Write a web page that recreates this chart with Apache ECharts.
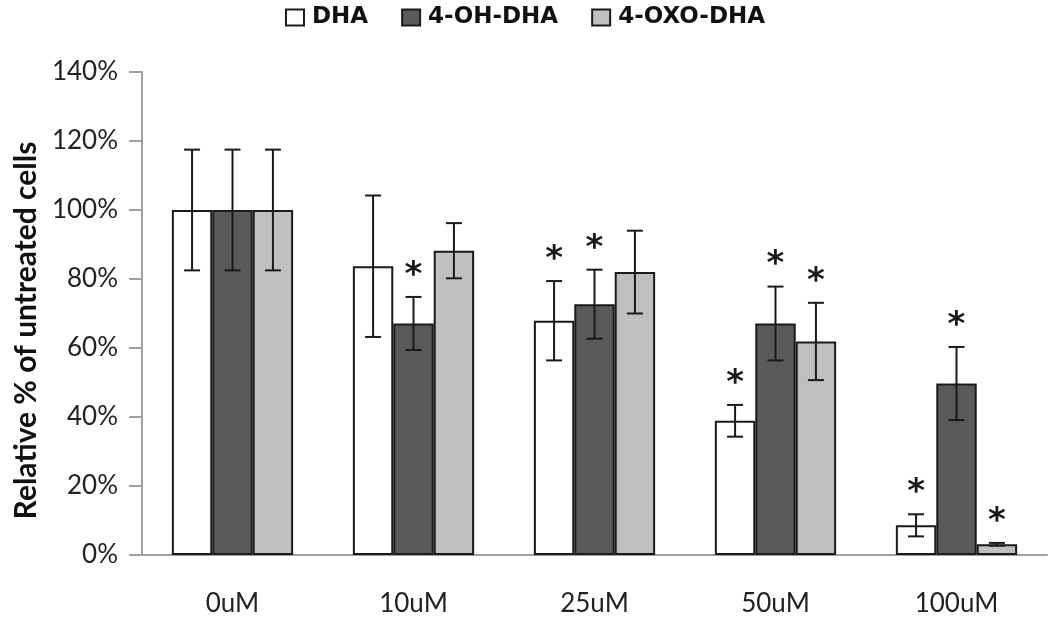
<!DOCTYPE html>
<html>
<head>
<meta charset="utf-8">
<script src="https://cdn.jsdelivr.net/npm/echarts@6/dist/echarts.min.js"></script>
<style>html,body{margin:0;padding:0;background:#fff}#c{width:1050px;height:617px}</style>
</head>
<body>
<div id="c"></div>
<script>
const categories = ['0uM', '10uM', '25uM', '50uM', '100uM'];
const seriesNames = ['DHA', '4-OH-DHA', '4-OXO-DHA'];
const dha = [100, 83.7, 67.9, 38.9, 8.6];
const dhaErr = [17.5, 20.5, 11.5, 4.6, 3.2];
const dhaSig = [0, 0, 1, 1, 1];
const oh = [100, 67.1, 72.7, 67.1, 49.7];
const ohErr = [17.5, 7.7, 10, 10.7, 10.6];
const ohSig = [0, 1, 1, 1, 1];
const oxo = [100, 88.2, 82.0, 61.9, 3.1];
const oxoErr = [17.5, 8, 12, 11.2, 0.4];
const oxoSig = [0, 0, 0, 1, 1];
const yTicks = [0, 20, 40, 60, 80, 100, 120, 140];

const colors = ['#ffffff', '#5a5a5a', '#bfbfbf'];
const catGap = 0.33;

function barSeries(name, vals, i) {
  return {
    name: name, type: 'bar', data: vals,
    barGap: '0%', barCategoryGap: (catGap * 100) + '%',
    itemStyle: { color: colors[i], borderColor: '#1a1a1a', borderWidth: 2 },
    z: 2
  };
}
function errSeries(name, vals, errs, sigs, idx) {
  return {
    name: name + ' err', type: 'custom', z: 5,
    data: vals.map((v, i) => [i, v, errs[i], sigs[i]]),
    encode: { x: 0, y: 1 },
    renderItem: function (params, api) {
      const x = api.value(0), v = api.value(1), e = api.value(2), s = api.value(3);
      const band = api.size([1, 0])[0];
      const bw = band * (1 - catGap) / 3;
      const c = api.coord([x, v]);
      const cx = c[0] + (idx - 1) * bw;
      const top = api.coord([x, v + e])[1];
      const bot = api.coord([x, v - e])[1];
      const cap = 8;
      const st = { stroke: '#1a1a1a', lineWidth: 2 };
      const children = [
        { type: 'line', shape: { x1: cx, y1: top, x2: cx, y2: bot }, style: st },
        { type: 'line', shape: { x1: cx - cap, y1: top, x2: cx + cap, y2: top }, style: st },
        { type: 'line', shape: { x1: cx - cap, y1: bot, x2: cx + cap, y2: bot }, style: st }
      ];
      if (s) {
        children.push({ type: 'text', style: { text: '*', x: cx, y: top - 4, align: 'center', verticalAlign: 'bottom',
          font: 'bold 34px "DejaVu Sans"', fill: '#1a1a1a' } });
      }
      return { type: 'group', children: children };
    }
  };
}

const chart = echarts.init(document.getElementById('c'));
chart.setOption({
  animation: false,
  backgroundColor: '#ffffff',
  legend: {
    data: seriesNames.map(n => ({ name: n, itemStyle: { borderColor: '#1a1a1a', borderWidth: 2 } })),
    top: 1, left: 'center', itemWidth: 18, itemHeight: 16, itemGap: 33,
    icon: 'rect',
    textStyle: { fontFamily: 'DejaVu Sans', fontWeight: 'bold', fontSize: 23, color: '#111', padding: [0, 0, 0, 3] }
  },
  grid: { left: 142, right: 3, top: 72, bottom: 57, containLabel: false },
  xAxis: {
    type: 'category', data: categories,
    axisLine: { lineStyle: { color: '#a0a0a0', width: 2 } },
    axisTick: { show: false },
    axisLabel: { margin: 36, fontFamily: 'Lato', fontSize: 26, color: '#222' }
  },
  yAxis: {
    type: 'value', min: 0, max: 140, interval: 20,
    name: 'Relative % of untreated cells', nameLocation: 'middle', nameGap: 97, nameRotate: 90,
    nameTextStyle: { fontFamily: 'Lato', fontWeight: 'bold', fontSize: 30, color: '#111', padding: [0, 34, 0, 0] },
    axisLine: { show: true, lineStyle: { color: '#a0a0a0', width: 2 } },
    axisTick: { show: true, length: 13, lineStyle: { color: '#a0a0a0', width: 2 } },
    splitLine: { show: false },
    axisLabel: { margin: 24, fontFamily: 'Lato', fontSize: 26, color: '#222',
      formatter: v => (yTicks.indexOf(v) >= 0 ? v + '%' : '') }
  },
  series: [
    barSeries(seriesNames[0], dha, 0),
    barSeries(seriesNames[1], oh, 1),
    barSeries(seriesNames[2], oxo, 2),
    errSeries(seriesNames[0], dha, dhaErr, dhaSig, 0),
    errSeries(seriesNames[1], oh, ohErr, ohSig, 1),
    errSeries(seriesNames[2], oxo, oxoErr, oxoSig, 2)
  ]
});
</script>
</body>
</html>
